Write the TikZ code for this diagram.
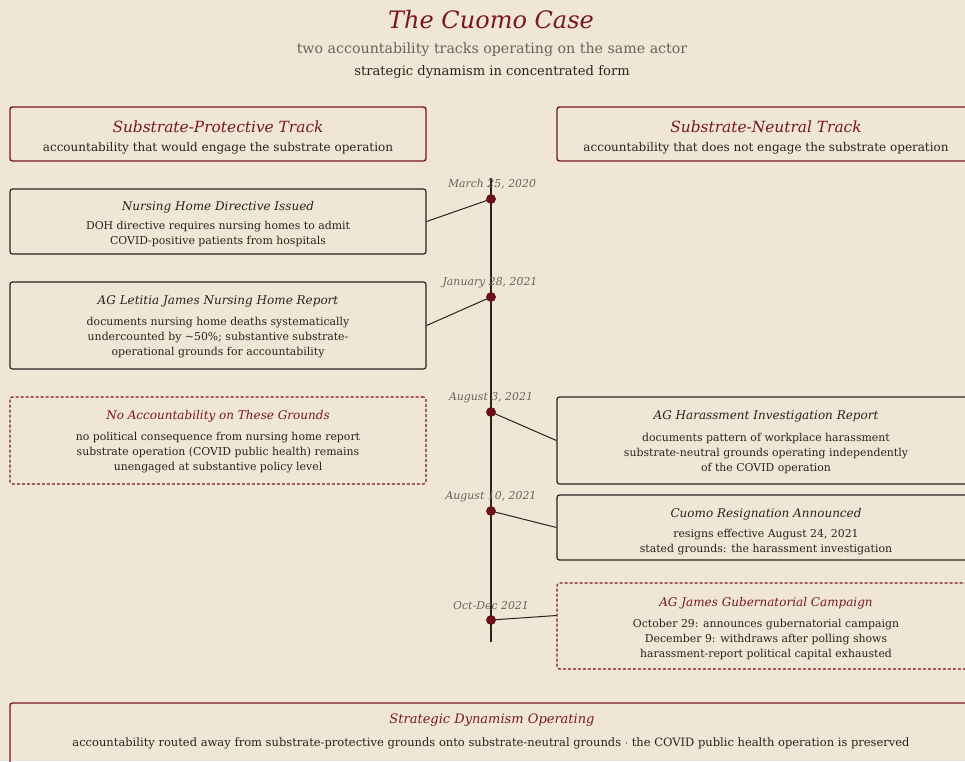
\documentclass[tikz,border=0pt]{standalone}
\usepackage{fontspec}
\setmainfont{DejaVu Serif}
\usetikzlibrary{calc}
\definecolor{paper}{HTML}{EFE6D6}
\definecolor{wine}{HTML}{7A1820}
\definecolor{dotred}{HTML}{6B0F1A}
\definecolor{ink}{HTML}{2A221F}
\definecolor{muted}{HTML}{6A625C}
\newcommand{\approxsign}{{\char"223C}}
\tikzset{
  evbox/.style={draw=ink, line width=1.2pt, rounded corners=2.5pt, minimum width=416pt, inner sep=0pt},
  dashbox/.style={draw=wine, line width=1.1pt, dash pattern=on 3pt off 2pt, rounded corners=2.5pt, minimum width=416pt, inner sep=0pt},
  headbox/.style={draw=wine, line width=1.4pt, rounded corners=2.5pt, minimum width=416pt, minimum height=54pt, inner sep=0pt},
  evtitle/.style={font=\fontsize{12}{14}\selectfont\itshape, text=ink, inner sep=0pt},
  redtitle/.style={font=\fontsize{12}{14}\selectfont\itshape, text=wine, inner sep=0pt},
  headtitle/.style={font=\fontsize{15.4}{18}\selectfont\itshape, text=wine, inner sep=0pt},
  headsub/.style={font=\fontsize{12}{14}\selectfont, text=ink, inner sep=0pt},
  body/.style={font=\fontsize{10.9}{15}\selectfont, text=ink, align=center, inner sep=0pt},
  datelbl/.style={font=\fontsize{10.9}{12}\selectfont\itshape, text=muted, inner sep=0pt},
  tdot/.style={circle, fill=dotred, minimum size=9.5pt, inner sep=0pt},
  link/.style={draw=ink, line width=1pt},
}
\begin{document}
\begin{tikzpicture}[x=1pt, y=-1pt]
  \fill[paper] (0,0) rectangle (965,761);
  \useasboundingbox (0,0) rectangle (965,761);

  % heading
  \node[font=\fontsize{24}{28}\selectfont\itshape, text=wine, inner sep=0pt] (title) at (491,20) {The Cuomo Case};
  \node[font=\fontsize{14.2}{16}\selectfont, text=muted, inner sep=0pt] (subtitle) at (492,50) {two accountability tracks operating on the same actor};
  \node[font=\fontsize{13.1}{15}\selectfont, text=ink, inner sep=0pt] (tagline) at (492,72) {strategic dynamism in concentrated form};

  % track headers
  \node[headbox] (lefthead) at (218,134) {};
  \node[headtitle] at (218,127) {Substrate-Protective Track};
  \node[headsub] at (218,148) {accountability that would engage the substrate operation};
  \node[headbox, minimum width=418pt] (righthead) at (766,134) {};
  \node[headtitle] at (766,127) {Substrate-Neutral Track};
  \node[headsub] at (766,148) {accountability that does not engage the substrate operation};

  % timeline spine
  \coordinate (spinetop) at (491,178);
  \coordinate (spinebot) at (491,642);
  \draw[ink, line width=2.4pt] (spinetop) -- (spinebot);

  % dated points
  \node[tdot] (d1) at (491,199) {};
  \node[tdot] (d2) at (491,297) {};
  \node[tdot] (d3) at (491,412) {};
  \node[tdot] (d4) at (491,511) {};
  \node[tdot] (d5) at (491,620) {};
  \node[datelbl] at (492,184) {March 25, 2020};
  \node[datelbl] at (490,283) {January 28, 2021};
  \node[datelbl] at (491,398) {August 3, 2021};
  \node[datelbl] at (491,497) {August 10, 2021};
  \node[datelbl] at (491,606) {Oct-Dec 2021};

  % left column
  \node[evbox, minimum height=65pt] (b1) at (218,221.5) {};
  \node[evtitle] at (218,207) {Nursing Home Directive Issued};
  \node[body] at (218,234) {DOH directive requires nursing homes to admit\\COVID-positive patients from hospitals};

  \node[evbox, minimum height=87pt] (b2) at (218,325.5) {};
  \node[evtitle] at (218,301) {AG Letitia James Nursing Home Report};
  \node[body] at (218,338) {documents nursing home deaths systematically\\undercounted by \approxsign50\%; substantive substrate-\\operational grounds for accountability};

  \node[dashbox, minimum height=87pt] (b3) at (218,440.5) {};
  \node[redtitle] at (218,416) {No Accountability on These Grounds};
  \node[body] at (218,453) {no political consequence from nursing home report\\substrate operation (COVID public health) remains\\unengaged at substantive policy level};

  % right column
  \node[evbox, minimum width=418pt, minimum height=87pt] (b4) at (766,440.5) {};
  \node[evtitle] at (766,416) {AG Harassment Investigation Report};
  \node[body] at (766,453) {documents pattern of workplace harassment\\substrate-neutral grounds operating independently\\of the COVID operation};

  \node[evbox, minimum width=418pt, minimum height=65pt] (b5) at (766,527.5) {};
  \node[evtitle] at (766,514) {Cuomo Resignation Announced};
  \node[body] at (766,542) {resigns effective August 24, 2021\\stated grounds: the harassment investigation};

  \node[dashbox, minimum width=418pt, minimum height=86pt] (b6) at (766,626) {};
  \node[redtitle] at (766,603) {AG James Gubernatorial Campaign};
  \node[body] at (766,639) {October 29: announces gubernatorial campaign\\December 9: withdraws after polling shows\\harassment-report political capital exhausted};

  % connectors
  \draw[link] (b1.east) -- (d1.center);
  \draw[link] (b2.east) -- (d2.center);
  \draw[link] (d3.center) -- (b4.west);
  \draw[link] (d4.center) -- (b5.west);
  \draw[link] (d5.center) -- ([yshift=10.5pt]b6.west);
  \node[tdot] at (d1) {};
  \node[tdot] at (d2) {};
  \node[tdot] at (d3) {};
  \node[tdot] at (d4) {};
  \node[tdot] at (d5) {};

  % summary band
  \node[draw=wine, line width=1.4pt, rounded corners=2.5pt, minimum width=965pt, minimum height=72pt, inner sep=0pt] (summary) at (492.5,739) {};
  \node[font=\fontsize{13}{15}\selectfont\itshape, text=wine, inner sep=0pt] at (492,720) {Strategic Dynamism Operating};
  \node[font=\fontsize{11.5}{13}\selectfont, text=ink, inner sep=0pt] at (491,743) {accountability routed away from substrate-protective grounds onto substrate-neutral grounds $\cdot$ the COVID public health operation is preserved};
\end{tikzpicture}
\end{document}
